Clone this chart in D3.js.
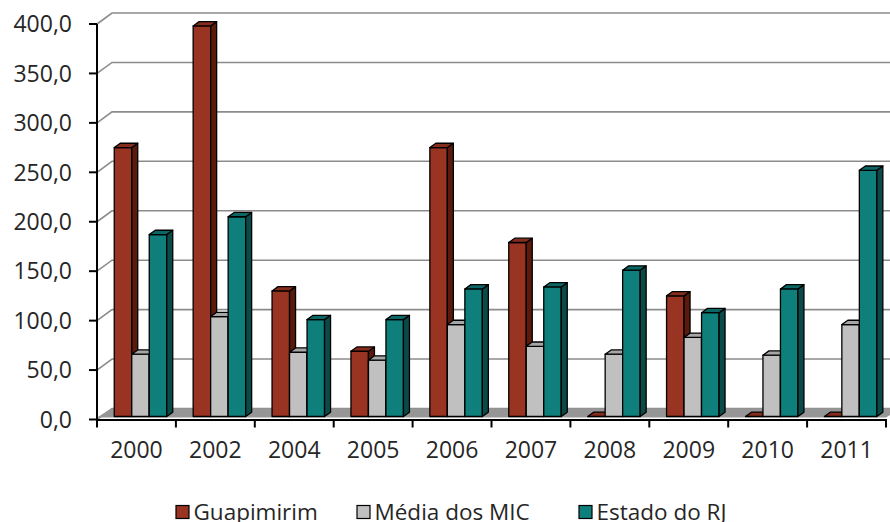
<!DOCTYPE html>
<html><head><meta charset="utf-8">
<script src="https://cdn.jsdelivr.net/npm/d3@7"></script>
<style>body{margin:0;background:#fff}svg{display:block}</style>
</head><body><svg id="c" width="890" height="522"></svg>
<script>
const years = ["2000","2002","2004","2005","2006","2007","2008","2009","2010","2011"];
const seriesNames = ["Guapimirim","Média dos MIC","Estado do RJ"];
const guapimirim = [272,395,127,66,272,176,0,122,0,0];
const mediaMIC = [63,101,65,57,93,71,63,80,62,93];
const estadoRJ = [184,202,98,98,129,131,148,105,129,249];
const yTicks = [0,50,100,150,200,250,300,350,400];
const yTickLabels = ["0,0","50,0","100,0","150,0","200,0","250,0","300,0","350,0","400,0"];

const colors = [
  {front:"#993322", side:"#5a1a0c", top:"#852c1c"},
  {front:"#c0c0c0", side:"#7f7f7f", top:"#a6a6a6"},
  {front:"#0e7f7b", side:"#0a4b49", top:"#0b6764"}
];
const values = [guapimirim, mediaMIC, estadoRJ];
const svg = d3.select("#c");
const font = "'Open Sans','Noto Sans',sans-serif";

const y = d3.scaleLinear().domain([0,400]).range([419.5,24]);
const x0 = d3.scaleBand().domain(years).range([97,886]);
const x1 = d3.scaleBand().domain(seriesNames).range([13.25,65.75]);
const wall = {dx:15, dy:-11};
const barOff = {dx:4, dy:-3};
const barDepth = {dx:6, dy:-4.3};

// gridlines (side wall diagonal + back wall)
const g = svg.append("g");
yTicks.forEach(v=>{
  const yy = y(v);
  g.append("polyline")
   .attr("points",`97,${yy} ${97+wall.dx},${yy+wall.dy} 900,${yy+wall.dy}`)
   .attr("fill","none").attr("stroke","#8c8c8c").attr("stroke-width",1.6);
});
// floor
const y0 = y(0);
svg.append("polygon")
  .attr("points",`97,${y0-2} ${886},${y0-2} ${886+wall.dx},${y0+wall.dy} ${97+wall.dx},${y0+wall.dy}`)
  .attr("fill","#969696");

// bars
const bars = svg.append("g");
years.forEach((yr,ci)=>{
  seriesNames.forEach((s,si)=>{
    const v = values[si][ci];
    const xl = x0(yr)+x1(s)+barOff.dx;
    const w = x1.bandwidth();
    const yb = y(0)+barOff.dy;
    const yt = y(v)+barOff.dy;
    const c = colors[si];
    const st = {stroke:"#000","stroke-width":1.3,"stroke-linejoin":"round"};
    const add = (pts,fill)=>{
      const p = bars.append("polygon").attr("points",pts.map(p=>p.join(",")).join(" ")).attr("fill",fill);
      Object.entries(st).forEach(([k,val])=>p.attr(k,val));
    };
    if (v>0) add([[xl,yt],[xl+w,yt],[xl+w,yb],[xl,yb]], c.front);
    add([[xl+w,yt],[xl+w+barDepth.dx,yt+barDepth.dy],[xl+w+barDepth.dx,yb+barDepth.dy],[xl+w,yb]], c.side);
    add([[xl,yt],[xl+barDepth.dx,yt+barDepth.dy],[xl+w+barDepth.dx,yt+barDepth.dy],[xl+w,yt]], c.top);
  });
});

// axes
svg.append("line").attr("x1",97).attr("x2",97).attr("y1",y(400)).attr("y2",y0+0.5)
  .attr("stroke","#000").attr("stroke-width",2);
svg.append("line").attr("x1",96).attr("x2",887).attr("y1",y0+0.5).attr("y2",y0+0.5)
  .attr("stroke","#000").attr("stroke-width",2);
yTicks.forEach((v,i)=>{
  svg.append("line").attr("x1",89).attr("x2",97).attr("y1",y(v)).attr("y2",y(v))
    .attr("stroke","#000").attr("stroke-width",2);
  svg.append("text").attr("x",72).attr("y",y(v)).attr("dy","0.36em")
    .attr("text-anchor","end").attr("font-family",font).attr("font-size",23)
    .attr("fill","#262626").text(yTickLabels[i]);
});
const bounds = years.map(yr=>x0(yr)).concat([886]);
bounds.forEach(bx=>{
  svg.append("line").attr("x1",bx).attr("x2",bx).attr("y1",y0).attr("y2",y0+8)
    .attr("stroke","#000").attr("stroke-width",2);
});
years.forEach(yr=>{
  svg.append("text").attr("x",x0(yr)+x0.bandwidth()/2).attr("y",458)
    .attr("text-anchor","middle").attr("font-family",font).attr("font-size",23)
    .attr("fill","#262626").text(yr);
});

// legend
const legX = [176,357,579];
seriesNames.forEach((s,i)=>{
  svg.append("rect").attr("x",legX[i]).attr("y",505.5).attr("width",13).attr("height",13)
    .attr("fill",colors[i].front).attr("stroke","#000").attr("stroke-width",1.2);
  svg.append("text").attr("x",legX[i]+17.5).attr("y",519.5).attr("font-family",font)
    .attr("font-size",22.5).attr("fill","#262626").text(s);
});
</script></body></html>
